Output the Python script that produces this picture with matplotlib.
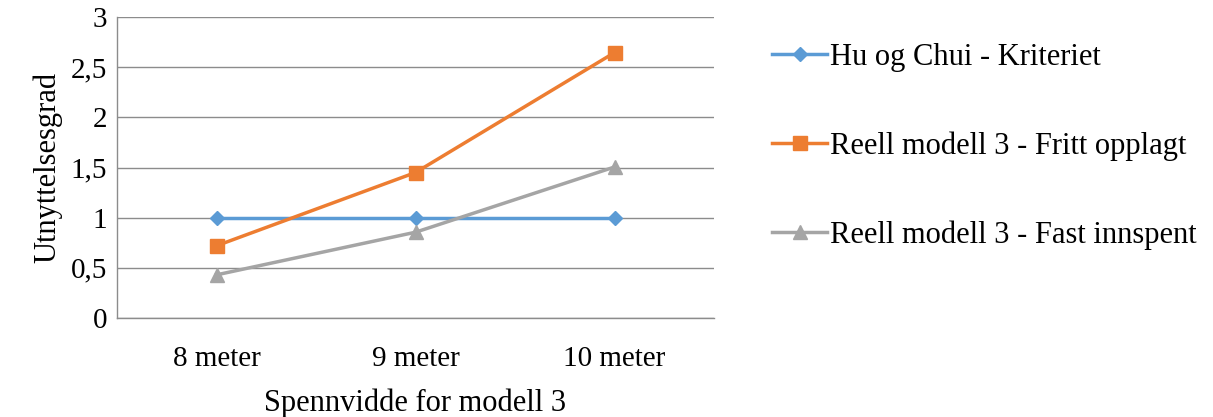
import matplotlib.pyplot as plt

plt.rcParams['font.family'] = ['Liberation Serif', 'DejaVu Serif']

categories = ['8 meter', '9 meter', '10 meter']
hu_chui = [1.0, 1.0, 1.0]
fritt_opplagt = [0.72, 1.45, 2.645]
fast_innspent = [0.43, 0.855, 1.505]
yticks = [0, 0.5, 1, 1.5, 2, 2.5, 3]
ytick_labels = ['0', '0,5', '1', '1,5', '2', '2,5', '3']

fig = plt.figure(figsize=(12.13, 4.17), dpi=100)
ax = fig.add_axes([117/1213, 1 - 318/417, (714-117)/1213, (318-17)/417])

x = range(len(categories))
ax.plot(x, hu_chui, '-D', color='#5B9BD5', linewidth=2.5, markersize=7.5, label='Hu og Chui - Kriteriet')
ax.plot(x, fritt_opplagt, '-s', color='#ED7D31', linewidth=2.5, markersize=10, label='Reell modell 3 - Fritt opplagt')
ax.plot(x, fast_innspent, '-^', color='#A5A5A5', linewidth=2.5, markersize=10, label='Reell modell 3 - Fast innspent')

ax.set_xlim(-0.5, 2.5)
ax.set_ylim(0, 3)
ax.set_xticks(list(x))
ax.set_xticklabels(categories, fontsize=21)
ax.set_yticks(yticks)
ax.set_yticklabels(ytick_labels, fontsize=21)
ax.tick_params(length=0)
ax.tick_params(axis='x', pad=20)
ax.tick_params(axis='y', pad=7)
ax.yaxis.grid(True, color='#8C8C8C', linewidth=1)
ax.set_axisbelow(True)
for s in ['top', 'right']:
    ax.spines[s].set_visible(False)
for s in ['left', 'bottom']:
    ax.spines[s].set_color('#8C8C8C')
    ax.spines[s].set_linewidth(1)

ax.set_xlabel('Spennvidde for modell 3', fontsize=22, labelpad=12)
ax.set_ylabel('Utnyttelsesgrad', fontsize=22, labelpad=6)

ax.legend(loc='upper left', bbox_to_anchor=(1.077, 0.955), frameon=False, fontsize=22,
          labelspacing=1.95, handlelength=1.8, handletextpad=0.1, borderaxespad=0)

fig.savefig('out.png', dpi=100)
